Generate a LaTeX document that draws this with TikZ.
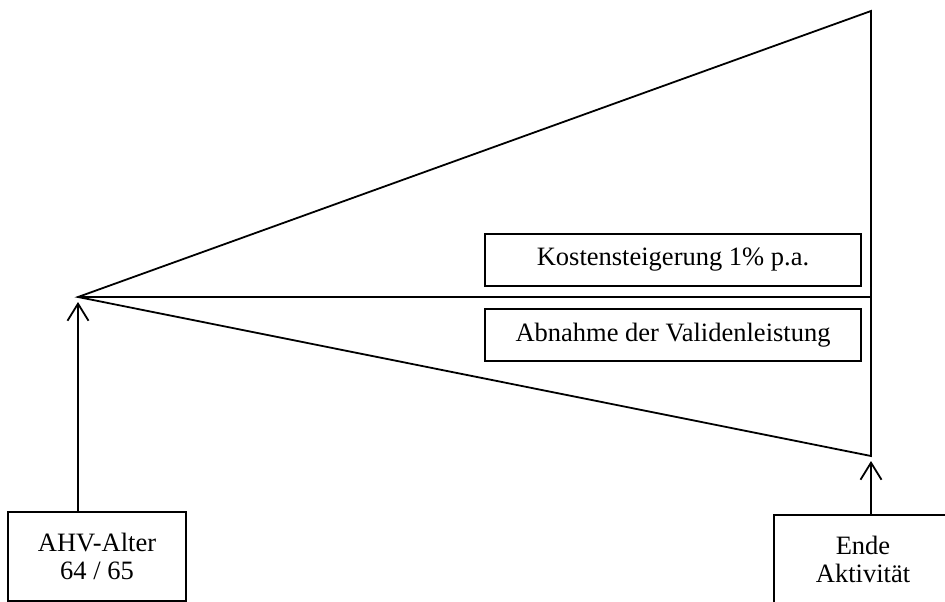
\documentclass[tikz,border=0pt]{standalone}
\usepackage{fontspec}
\setmainfont{Liberation Serif}
\usetikzlibrary{arrows.meta}
\begin{document}
\begin{tikzpicture}[x=1pt,y=-1pt, line width=1.8pt,
  lbl/.style={font=\fontsize{26.5}{28}\selectfont, align=center, inner sep=0pt},
  framebox/.style={lbl, draw, minimum width=376pt, minimum height=52pt},
  upar/.style={-{Straight Barb[length=17pt,width=21pt,line width=1.8pt]}, shorten >=5pt}]
\useasboundingbox (0,0) rectangle (945,602);
\clip (0,0) rectangle (945,602);
\coordinate (apex) at (78,297);
\coordinate (tr) at (871,11);
\coordinate (br) at (871,456);
\draw[line join=miter] (apex) -- (tr) -- (br) -- cycle;
\draw (apex) -- (tr |- apex);
\node[framebox] (kosten) at (673,260) {Kostensteigerung 1\% p.a.};
\node[framebox] (abnahme) at (673,335) {Abnahme der Validenleistung};
\node[lbl, draw, minimum width=178pt, minimum height=89pt] (ahv) at (97,556.5) {AHV-Alter\\64 / 65};
\node[lbl] (ende) at (863,559.5) {Ende\\Aktivität};
\coordinate (endetop) at (871,515);
\draw (774,650) |- (980,515);
\draw[upar] (apex |- ahv.north) -- (apex);
\draw[upar] (endetop) -- (br);
\end{tikzpicture}
\end{document}
